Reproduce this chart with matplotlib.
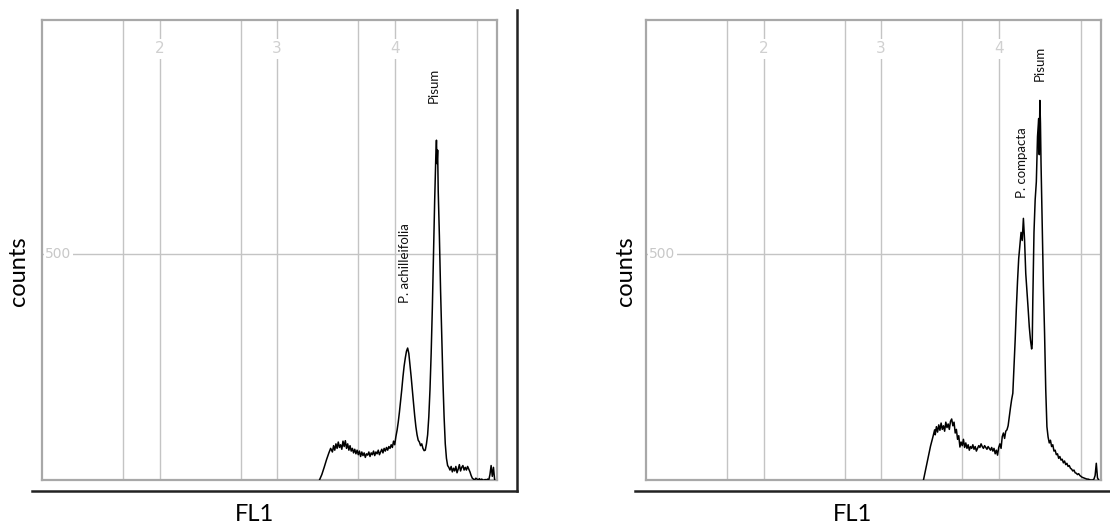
import numpy as np
import matplotlib
matplotlib.use('Agg')
import matplotlib.pyplot as plt
from matplotlib.lines import Line2D
from matplotlib import transforms

plt.rcParams['font.family'] = ['Lato', 'DejaVu Sans']

# FL1 channel (log decades) and counts
left_x = [3.36, 3.38, 3.40, 3.42, 3.44, 3.455, 3.47, 3.48, 3.49, 3.50, 3.51, 3.52, 3.53, 3.54,
          3.55, 3.56, 3.57, 3.58, 3.59, 3.60, 3.61, 3.62, 3.63, 3.64, 3.65, 3.66, 3.67, 3.68,
          3.69, 3.70, 3.71, 3.72, 3.73, 3.74, 3.75, 3.76, 3.77, 3.78, 3.79, 3.80, 3.81, 3.82,
          3.83, 3.84, 3.85, 3.86, 3.87, 3.88, 3.89, 3.90, 3.91, 3.92, 3.93, 3.94, 3.95, 3.96,
          3.97, 3.98, 3.99, 4.00, 4.01, 4.02, 4.03, 4.04, 4.05, 4.06, 4.07, 4.08, 4.09, 4.10,
          4.11, 4.12, 4.13, 4.14, 4.15, 4.16, 4.17, 4.18, 4.19, 4.20, 4.21, 4.22, 4.23, 4.24,
          4.25, 4.26, 4.27, 4.28, 4.29, 4.30, 4.31, 4.32, 4.33, 4.34, 4.35, 4.355, 4.36, 4.365,
          4.37, 4.38, 4.39, 4.40, 4.41, 4.42, 4.43, 4.44, 4.45, 4.46, 4.47, 4.48, 4.49, 4.50,
          4.51, 4.52, 4.53, 4.54, 4.55, 4.56, 4.57, 4.58, 4.59, 4.60, 4.61, 4.62, 4.63, 4.64,
          4.65, 4.66, 4.67, 4.68, 4.69, 4.70, 4.71, 4.72, 4.73, 4.74, 4.75, 4.76, 4.77, 4.78,
          4.79, 4.80, 4.81, 4.82, 4.83, 4.84, 4.85]
left_y = [0, 12, 28, 45, 60, 70, 62, 76, 66, 80, 70, 84, 72, 78,
          68, 86, 74, 87, 70, 80, 66, 76, 64, 70, 60, 68, 58, 66,
          56, 64, 52, 62, 54, 60, 50, 58, 55, 62, 52, 60, 56, 64,
          54, 62, 58, 66, 56, 62, 68, 60, 70, 64, 72, 66, 74, 70,
          78, 72, 86, 78, 96, 110, 128, 150, 175, 200, 228, 252, 270, 285,
          292, 280, 255, 228, 198, 170, 142, 118, 100, 88, 84, 76, 80, 70,
          65, 66, 80, 100, 140, 200, 280, 380, 500, 620, 720, 752, 700, 730,
          640, 540, 420, 320, 220, 140, 80, 48, 32, 28, 22, 30, 18, 26,
          20, 30, 16, 24, 34, 20, 28, 32, 22, 28, 22, 30, 24, 18,
          10, 4, 2, 0, 4, 2, 0, 3, 0, 2, 0, 0, 1, 0,
          2, 0, 12, 32, 8, 28, 0]

right_x = [3.36, 3.38, 3.40, 3.42, 3.44, 3.455, 3.46, 3.47, 3.48, 3.49, 3.50, 3.51, 3.52, 3.53,
           3.54, 3.55, 3.56, 3.57, 3.58, 3.59, 3.60, 3.61, 3.62, 3.63, 3.64, 3.65, 3.66, 3.67,
           3.68, 3.69, 3.70, 3.71, 3.72, 3.73, 3.74, 3.75, 3.76, 3.77, 3.78, 3.79, 3.80, 3.81,
           3.82, 3.83, 3.84, 3.85, 3.86, 3.87, 3.88, 3.89, 3.90, 3.91, 3.92, 3.93, 3.94, 3.95,
           3.96, 3.97, 3.98, 3.99, 4.00, 4.01, 4.02, 4.03, 4.04, 4.05, 4.06, 4.07, 4.08, 4.09,
           4.10, 4.11, 4.12, 4.13, 4.14, 4.15, 4.16, 4.17, 4.18, 4.19, 4.20, 4.21, 4.215, 4.22,
           4.23, 4.24, 4.25, 4.26, 4.27, 4.28, 4.285, 4.29, 4.30, 4.31, 4.32, 4.33, 4.34, 4.345,
           4.35, 4.355, 4.36, 4.37, 4.38, 4.39, 4.40, 4.41, 4.42, 4.43, 4.44, 4.45, 4.46, 4.47,
           4.48, 4.49, 4.50, 4.51, 4.52, 4.53, 4.54, 4.55, 4.56, 4.57, 4.58, 4.59, 4.60, 4.61,
           4.62, 4.63, 4.64, 4.65, 4.66, 4.67, 4.68, 4.69, 4.70, 4.71, 4.72, 4.73, 4.74, 4.75,
           4.76, 4.77, 4.78, 4.79, 4.80, 4.81, 4.82, 4.83, 4.84, 4.85]
right_y = [0, 25, 50, 75, 95, 111, 100, 118, 106, 122, 110, 126, 112, 120,
           108, 128, 116, 124, 112, 130, 135, 120, 128, 104, 112, 90, 98, 73,
           84, 76, 90, 72, 82, 70, 78, 66, 74, 70, 78, 68, 74, 64,
           70, 76, 72, 80, 74, 70, 76, 72, 68, 74, 70, 66, 72, 64,
           70, 58, 66, 55, 72, 80, 70, 96, 104, 92, 108, 111, 120, 140,
           160, 178, 192, 250, 310, 380, 440, 490, 520, 548, 530, 579, 555, 530,
           457, 420, 380, 339, 310, 290, 300, 398, 548, 620, 660, 760, 800, 720,
           840, 790, 700, 560, 430, 325, 200, 118, 95, 82, 88, 74, 78, 64,
           66, 56, 58, 48, 52, 44, 46, 38, 42, 34, 37, 30, 32, 26,
           24, 20, 22, 16, 15, 12, 14, 10, 8, 6, 5, 4, 3, 2,
           2, 1, 0, 0, 0, 2, 10, 37, 5, 0]

grid_x = [1.69, 2, 2.69, 3, 3.69, 4, 4.70]
decade_labels = [2, 3, 4]
grid_y = [500]

left_labels = [('Pisum', 4.33, 874), ('P. achilleifolia', 4.085, 480)]
right_labels = [('P. compacta', 4.196, 703), ('Pisum', 4.35, 922)]

W, H = 1110, 528
fig = plt.figure(figsize=(W / 100, H / 100), dpi=100)


def px_box(x0, y0, x1, y1):
    return [x0 / W, 1 - y1 / H, (x1 - x0) / W, (y1 - y0) / H]


def draw_panel(ax, xs, ys, labels, ylab_x, xlab_x):
    for g in grid_x:
        ax.axvline(g, color='#c4c4c4', lw=1.0, zorder=1)
    for g in grid_y:
        ax.axhline(g, color='#c4c4c4', lw=1.0, zorder=1)
    trans = transforms.blended_transform_factory(ax.transData, ax.transAxes)
    for d in decade_labels:
        ax.text(d, 0.937, str(d), transform=trans, ha='center', va='center',
                color='#d0d0d0', fontsize=11, family=['Liberation Sans Narrow', 'DejaVu Sans'],
                bbox=dict(facecolor='white', edgecolor='none', pad=1.5), zorder=2)
    trans2 = transforms.blended_transform_factory(ax.transAxes, ax.transData)
    for g in grid_y:
        ax.text(0.036, g, str(g), transform=trans2, ha='center', va='center',
                color='#c8c8c8', fontsize=10, family=['Liberation Sans Narrow', 'DejaVu Sans'],
                bbox=dict(facecolor='white', edgecolor='none', pad=1.0), zorder=2)
    ax.plot(xs, ys, color='black', lw=1.1, zorder=3)
    for txt, tx, ty in labels:
        ax.text(tx, ty, txt, rotation=90, ha='center', va='center', fontsize=9.5,
                color='#111111', zorder=4)
    ax.set_xlim(1.0, 4.87)
    ax.set_ylim(0, 1018)
    ax.set_xticks([])
    ax.set_yticks([])
    for s in ax.spines.values():
        s.set_color('#a8a8a8')
        s.set_linewidth(1.6)
    ax.set_ylabel('counts', fontsize=17)
    ax.yaxis.set_label_coords(ylab_x, 0.454)
    ax.set_xlabel('FL1', fontsize=17)
    ax.xaxis.set_label_coords(xlab_x, -0.052)


ax1 = fig.add_axes(px_box(42, 20, 497, 480))
draw_panel(ax1, left_x, left_y, left_labels, -0.028, 0.468)

ax2 = fig.add_axes(px_box(646, 20, 1101, 480))
draw_panel(ax2, right_x, right_y, right_labels, -0.022, 0.453)

# black frame lines outside the plot boxes
fig.add_artist(Line2D([32 / W, 517 / W], [1 - 491 / H, 1 - 491 / H], color='#222222', lw=1.8,
                      transform=fig.transFigure))
fig.add_artist(Line2D([517 / W, 517 / W], [1 - 10 / H, 1 - 491 / H], color='#222222', lw=1.8,
                      transform=fig.transFigure))
fig.add_artist(Line2D([635 / W, 1110 / W], [1 - 491 / H, 1 - 491 / H], color='#222222', lw=1.8,
                      transform=fig.transFigure))

plt.savefig('out.png', dpi=100)
